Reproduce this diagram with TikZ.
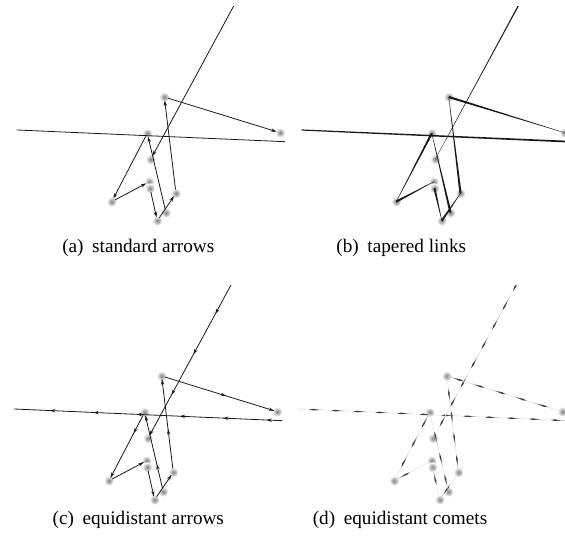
\documentclass[tikz,border=0pt]{standalone}
\usepackage{fontspec}
\setmainfont{Liberation Serif}
\usetikzlibrary{arrows.meta,calc,decorations.markings}
\definecolor{ink}{RGB}{25,25,25}

% tapered link: source, target, half width at source, half width at target
\newcommand{\taperlink}[4]{%
  \fill[ink] ($(#1)!#3!90:(#2)$) -- ($(#2)!#4!-90:(#1)$)
    -- ($(#2)!#4!90:(#1)$) -- ($(#1)!#3!-90:(#2)$) -- cycle;}

\begin{document}
\begin{tikzpicture}[x=0.75pt,y=-0.75pt,
  dot/.style={circle,inner sep=0pt,minimum size=7.5pt,outer sep=-1pt,
              shading=radial,inner color=black!50,outer color=white},
  link/.style={draw=ink,line width=0.6pt,-{Stealth[length=4pt,width=2.6pt]}},
  plain/.style={draw=ink,line width=0.6pt},
  equi/.style 2 args={draw=ink,line width=0.6pt,
    decoration={markings,mark=between positions #1 and -12pt step #2 with
      {\arrowreversed{Stealth[length=3.8pt,width=2.5pt]}}},postaction=decorate},
  comet/.style={draw=gray!25,line width=0.3pt,
    decoration={markings,mark=between positions 10pt and 1 step 16.5pt with
      {\fill[gray!25] (-13pt,0pt) -- (-3pt,0.45pt) -- (0.5pt,0pt) -- (-3pt,-0.45pt) -- cycle;
       \fill[gray!55] (-10pt,0pt) -- (-3pt,0.55pt) -- (0.4pt,0pt) -- (-3pt,-0.55pt) -- cycle;
       \fill[black!75] (-7pt,0pt) -- (-2.5pt,0.6pt) -- (0.3pt,0pt) -- (-2.5pt,-0.6pt) -- cycle;}},
    postaction=decorate},
  captext/.style={font=\fontsize{14.4}{17}\selectfont,inner sep=0pt}
]
\useasboundingbox (0,0) rectangle (565,540);
% the same nodes in each of the four panels
\foreach \p/\dx/\dy in {a/0/0,b/284.5/0,c/-2.7/279,d/282.5/279}{
  \begin{scope}[shift={(\dx,\dy)}]
    \node[dot] (\p A) at (147.3,133.3) {};
    \node[dot] (\p B) at (164.3,97) {};
    \node[dot] (\p C) at (150.7,159.3) {};
    \node[dot] (\p D) at (149.3,181.7) {};
    \node[dot] (\p E) at (150,188.3) {};
    \node[dot] (\p F) at (111.7,201.7) {};
    \node[dot] (\p G) at (157.3,220.7) {};
    \node[dot] (\p H) at (166,212.7) {};
    \node[dot] (\p I) at (176,193.3) {};
    \node[dot] (\p J) at (280,132.7) {};
    % ends outside the view
    \coordinate (\p T) at (258.1,-39.1);
    \coordinate (\p L) at (-150,122.7);
    \coordinate (\p R) at (700,159.8);
  \end{scope}
}

% (a) standard arrows
\begin{scope}
  \clip (16.7,6.5) rectangle (285,228);
  \draw[plain] (aR) -- (aL);
  \draw[link] (aT) -- (aC);
  \draw[link] (aB) -- (aJ);
  \draw[link] (aA) -- (aF);
  \draw[link] (aF) -- (aD);
  \draw[link] (aE) -- (aG);
  \draw[link] (aG) -- (aI);
  \draw[link] (aI) -- (aB);
  \draw[link] (aH) -- (aA);
\end{scope}

% (b) tapered links
\begin{scope}
  \clip (301.7,6.5) rectangle (570,228);
  \taperlink{bR}{bL}{1pt}{0.3pt}
  \taperlink{bT}{bC}{0.55pt}{0.1pt}
  \taperlink{bB}{bJ}{0.8pt}{0.12pt}
  \taperlink{bA}{bF}{0.8pt}{0.12pt}
  \taperlink{bF}{bD}{0.8pt}{0.12pt}
  \taperlink{bE}{bG}{0.8pt}{0.12pt}
  \taperlink{bG}{bI}{0.8pt}{0.12pt}
  \taperlink{bI}{bB}{0.8pt}{0.12pt}
  \taperlink{bH}{bA}{0.8pt}{0.12pt}
\end{scope}

% (c) equidistant arrows
\begin{scope}
  \clip (14,285.5) rectangle (282.3,507);
  \draw[equi={22.3pt}{32.5pt}] (cL) -- (cR);
  \draw[equi={0pt}{34.5pt}] (cC) -- (cT);
  \draw[equi={0pt}{37.5pt}] (cJ) -- (cB);
  \draw[equi={0pt}{37.5pt}] (cF) -- (cA);
  \draw[equi={0pt}{37.5pt}] (cD) -- (cF);
  \draw[equi={0pt}{37.5pt}] (cG) -- (cE);
  \draw[equi={0pt}{37.5pt}] (cI) -- (cG);
  \draw[equi={0pt}{37.5pt}] (cB) -- (cI);
  \draw[equi={0pt}{37.5pt}] (cA) -- (cH);
\end{scope}

% (d) equidistant comets
\begin{scope}
  \clip (299.2,285.5) rectangle (567.5,507);
  \draw[comet] (dR) -- (dL);
  \draw[comet] (dT) -- (dC);
  \draw[comet] (dB) -- (dJ);
  \draw[comet] (dA) -- (dF);
  \draw[comet] (dF) -- (dD);
  \draw[comet] (dE) -- (dG);
  \draw[comet] (dG) -- (dI);
  \draw[comet] (dI) -- (dB);
  \draw[comet] (dH) -- (dA);
\end{scope}

% captions
\node[captext] (capa) at (138.3,248) {(a)\hspace{0.45em}standard arrows};
\node[captext] (capb) at (401.3,248) {(b)\hspace{0.45em}tapered links};
\node[captext] (capc) at (138.3,520) {(c)\hspace{0.45em}equidistant arrows};
\node[captext] (capd) at (400,520) {(d)\hspace{0.45em}equidistant comets};
\end{tikzpicture}
\end{document}
